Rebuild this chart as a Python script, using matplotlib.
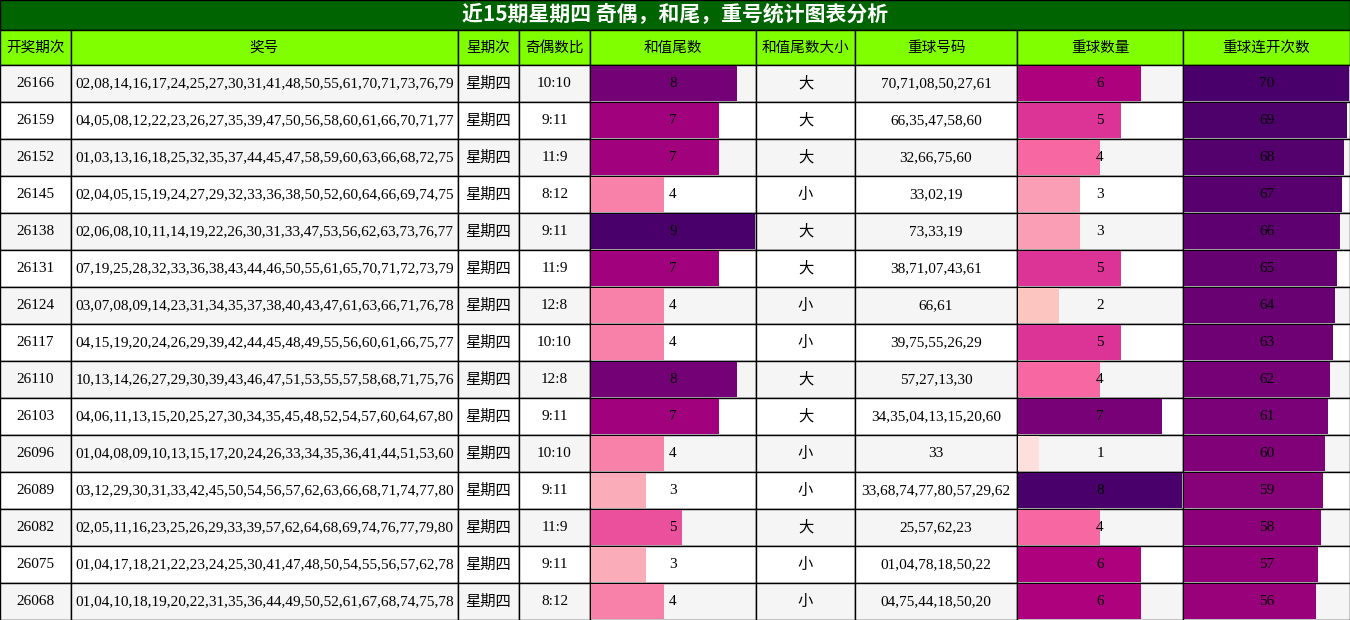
import matplotlib.pyplot as plt
from matplotlib import cm

plt.rcParams['font.family'] = ['Liberation Serif', 'Noto Sans CJK SC', 'DejaVu Sans']

title = '近15期星期四 奇偶，和尾，重号统计图表分析'
headers = ['开奖期次', '奖号', '星期次', '奇偶数比', '和值尾数', '和值尾数大小', '重球号码', '重球数量', '重球连开次数']
issues = ['26166', '26159', '26152', '26145', '26138', '26131', '26124', '26117', '26110', '26103', '26096', '26089', '26082', '26075', '26068']
numbers = [
    '02,08,14,16,17,24,25,27,30,31,41,48,50,55,61,70,71,73,76,79',
    '04,05,08,12,22,23,26,27,35,39,47,50,56,58,60,61,66,70,71,77',
    '01,03,13,16,18,25,32,35,37,44,45,47,58,59,60,63,66,68,72,75',
    '02,04,05,15,19,24,27,29,32,33,36,38,50,52,60,64,66,69,74,75',
    '02,06,08,10,11,14,19,22,26,30,31,33,47,53,56,62,63,73,76,77',
    '07,19,25,28,32,33,36,38,43,44,46,50,55,61,65,70,71,72,73,79',
    '03,07,08,09,14,23,31,34,35,37,38,40,43,47,61,63,66,71,76,78',
    '04,15,19,20,24,26,29,39,42,44,45,48,49,55,56,60,61,66,75,77',
    '10,13,14,26,27,29,30,39,43,46,47,51,53,55,57,58,68,71,75,76',
    '04,06,11,13,15,20,25,27,30,34,35,45,48,52,54,57,60,64,67,80',
    '01,04,08,09,10,13,15,17,20,24,26,33,34,35,36,41,44,51,53,60',
    '03,12,29,30,31,33,42,45,50,54,56,57,62,63,66,68,71,74,77,80',
    '02,05,11,16,23,25,26,29,33,39,57,62,64,68,69,74,76,77,79,80',
    '01,04,17,18,21,22,23,24,25,30,41,47,48,50,54,55,56,57,62,78',
    '01,04,10,18,19,20,22,31,35,36,44,49,50,52,61,67,68,74,75,78',
]
weekday = ['星期四'] * 15
odd_even = ['10:10', '9:11', '11:9', '8:12', '9:11', '11:9', '12:8', '10:10', '12:8', '9:11', '10:10', '9:11', '11:9', '9:11', '8:12']
sum_tail = [8, 7, 7, 4, 9, 7, 4, 4, 8, 7, 4, 3, 5, 3, 4]
tail_size = ['大', '大', '大', '小', '大', '大', '小', '小', '大', '大', '小', '小', '大', '小', '小']
repeat_balls = ['70,71,08,50,27,61', '66,35,47,58,60', '32,66,75,60', '33,02,19', '73,33,19', '38,71,07,43,61',
                '66,61', '39,75,55,26,29', '57,27,13,30', '34,35,04,13,15,20,60', '33', '33,68,74,77,80,57,29,62',
                '25,57,62,23', '01,04,78,18,50,22', '04,75,44,18,50,20']
repeat_count = [6, 5, 4, 3, 3, 5, 2, 5, 4, 7, 1, 8, 4, 6, 6]
streak = [70, 69, 68, 67, 66, 65, 64, 63, 62, 61, 60, 59, 58, 57, 56]

col_x = [0, 71, 458, 519, 590, 756, 855, 1017, 1183, 1350]
title_h = 30
head_h = 35
row_h = (620 - title_h - head_h) / len(issues)

fig = plt.figure(figsize=(13.5, 6.2), dpi=100)
ax = fig.add_axes([0, 0, 1, 1])
ax.set_xlim(0, 1350)
ax.set_ylim(620, 0)
ax.axis('off')

ax.add_patch(plt.Rectangle((0, 0), 1350, title_h, facecolor='#006400', edgecolor='black', lw=1))
ax.text(675, title_h / 2, title, color='white', fontsize=15, fontweight='bold', ha='center', va='center',
        family=['Noto Sans CJK SC', 'DejaVu Sans'])

for i, h in enumerate(headers):
    x0, x1 = col_x[i], col_x[i + 1]
    ax.add_patch(plt.Rectangle((x0, title_h), x1 - x0, head_h, facecolor='#7fff00', edgecolor='black', lw=1))
    ax.text((x0 + x1) / 2, title_h + head_h / 2, h, fontsize=10.5, ha='center', va='center',
            family=['Noto Sans CJK SC', 'DejaVu Sans'])

cmap = cm.get_cmap('RdPu') if hasattr(cm, 'get_cmap') else plt.colormaps['RdPu']
bar_cols = {4: (sum_tail, 9), 7: (repeat_count, 8), 8: (streak, 70)}

for r in range(len(issues)):
    y0 = title_h + head_h + r * row_h
    bg = '#f5f5f5' if r % 2 == 0 else 'white'
    vals = [issues[r], numbers[r], weekday[r], odd_even[r], str(sum_tail[r]), tail_size[r],
            repeat_balls[r], str(repeat_count[r]), str(streak[r])]
    for c in range(9):
        x0, x1 = col_x[c], col_x[c + 1]
        ax.add_patch(plt.Rectangle((x0, y0), x1 - x0, row_h, facecolor=bg, edgecolor='black', lw=1))
        if c in bar_cols:
            data, vmax = bar_cols[c]
            frac = data[r] / vmax
            ax.add_patch(plt.Rectangle((x0 + 1, y0 + 1), (x1 - x0 - 2) * frac, row_h - 2,
                                       facecolor=cmap(frac), edgecolor='none'))
        fam = ['Noto Sans CJK SC', 'DejaVu Sans'] if c in (2, 5) else ['Liberation Serif', 'Noto Sans CJK SC']
        ax.text((x0 + x1) / 2, y0 + row_h / 2, vals[c], fontsize=11, ha='center', va='center', family=fam)

fig.savefig('out.png', dpi=100)
